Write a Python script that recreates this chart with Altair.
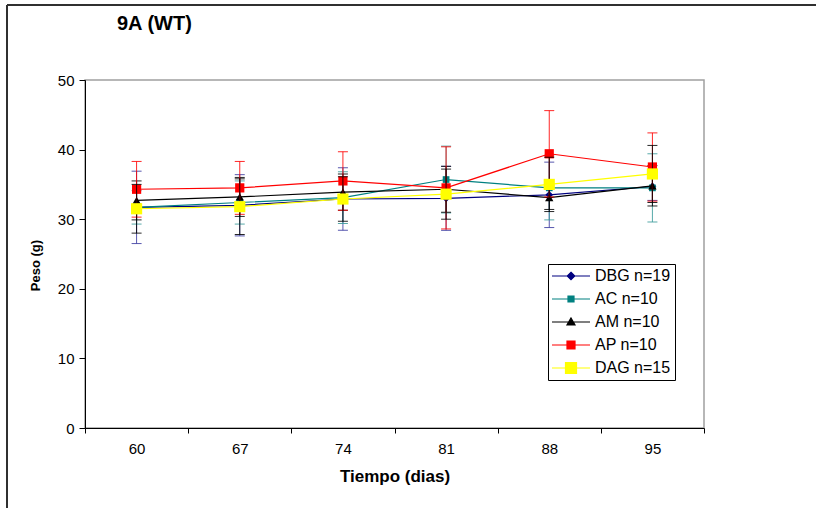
import altair as alt
import pandas as pd

# ---------------- data ----------------
days = [60, 67, 74, 81, 88, 95]
series = ["DBG n=19", "AC n=10", "AM n=10", "AP n=10", "DAG n=15"]

dbg_mean = [31.7, 32.0, 32.9, 33.0, 33.5, 34.7]
dbg_err = [5.2, 4.4, 4.5, 4.6, 4.7, 2.0]
ac_mean = [31.7, 32.4, 33.1, 35.7, 34.5, 34.5]
ac_err = [2.4, 3.1, 3.7, 4.8, 4.6, 4.9]
am_mean = [32.7, 33.2, 33.9, 34.3, 33.1, 34.8]
am_err = [2.8, 2.8, 2.6, 3.3, 1.7, 2.9]
ap_mean = [34.3, 34.5, 35.5, 34.5, 39.4, 37.5]
ap_err = [4.0, 3.8, 4.2, 5.9, 6.2, 4.9]
dag_mean = [31.5, 31.8, 32.9, 33.6, 35.0, 36.5]
dag_err = [3.5, 4.0, 3.2, 3.6, 3.9, 4.1]

y_ticks = [0, 10, 20, 30, 40, 50]

means = [dbg_mean, ac_mean, am_mean, ap_mean, dag_mean]
errs = [dbg_err, ac_err, am_err, ap_err, dag_err]

# ---------------- styles ----------------
FONT = "Liberation Sans"
line_colors = ["#000080", "#008080", "#000000", "#FF0000", "#FFFF00"]
err_colors = ["#3A3AA0", "#3A9A9A", "#000000", "#FF0000", "#000000"]
shapes = ["diamond", "square", "triangle-up", "square", "square"]
sizes = [60, 45, 70, 85, 125]
legend_paths = [
    "M-3.8,0H3.8M0,-0.75L0.75,0L0,0.75L-0.75,0Z",
    "M-3.8,0H3.8M-0.6,-0.6H0.6V0.6H-0.6Z",
    "M-3.8,0H3.8M0,-0.8L0.8,0.6H-0.8Z",
    "M-3.8,0H3.8M-0.8,-0.8H0.8V0.8H-0.8Z",
    "M-3.8,0H3.8M-1.1,-1.1H1.1V1.1H-1.1Z",
]

rows = []
for name, m, e in zip(series, means, errs):
    for d, mv, ev in zip(days, m, e):
        rows.append({"series": name, "day": d, "mean": mv, "err": ev})
df = pd.DataFrame(rows)

base = alt.Chart(df).transform_calculate(
    lo="datum.mean - datum.err", hi="datum.mean + datum.err"
)

xaxis = alt.Axis(
    labelAngle=0, tickBand="extent", tickSize=5, labelPadding=8,
    labelFontSize=15, labelColor="#000", domainColor="#000", tickColor="#000",
    titleFontSize=17, titleFontWeight="bold", titleColor="#000",
    titleX=309.5, titleY=48, titleBaseline="middle", titleAlign="center",
)
yaxis = alt.Axis(
    values=y_ticks, grid=False, tickSize=6, labelPadding=5,
    labelFontSize=15, labelColor="#000", domainColor="#000", tickColor="#000",
    titleFontSize=13, titleFontWeight="bold", titleColor="#000",
    titleX=-50, titleY=185, titleAngle=270, titleBaseline="middle", titleAlign="center",
)
xscale = alt.Scale(type="band", paddingInner=0, paddingOuter=0)
yscale = alt.Scale(domain=[0, 50], nice=False, zero=True)


def X():
    return alt.X("day:O", scale=xscale, bandPosition=0.5, axis=xaxis, title="Tiempo (dias)")


def Y(field):
    return alt.Y(field, scale=yscale, axis=yaxis, title="Peso (g)")


layers = []
for i, name in enumerate(series):
    s = base.transform_filter(alt.datum.series == name)
    layers.append(
        s.mark_rule(color=err_colors[i], strokeWidth=1, opacity=0.85).encode(
            x=X(), y=Y("lo:Q"), y2="hi:Q"
        )
    )
    layers.append(
        s.mark_tick(color=err_colors[i], size=10, thickness=1, opacity=0.85).encode(
            x=X(), y=Y("lo:Q")
        )
    )
    layers.append(
        s.mark_tick(color=err_colors[i], size=10, thickness=1, opacity=0.85).encode(
            x=X(), y=Y("hi:Q")
        )
    )
    layers.append(
        s.mark_line(color=line_colors[i], strokeWidth=1.2).encode(x=X(), y=Y("mean:Q"))
    )
    layers.append(
        s.mark_point(
            shape=shapes[i], size=sizes[i], filled=True, color=line_colors[i],
            opacity=1, strokeWidth=0,
        ).encode(x=X(), y=Y("mean:Q"))
    )

# invisible layer that only provides the legend
legend_layer = base.mark_point(filled=True, opacity=0, size=100).encode(
    x=X(),
    y=Y("mean:Q"),
    fill=alt.Fill("series:N", scale=alt.Scale(domain=series, range=line_colors), legend=alt.Legend(title=None)),
    stroke=alt.Stroke("series:N", scale=alt.Scale(domain=series, range=line_colors), legend=alt.Legend(title=None)),
    shape=alt.Shape("series:N", scale=alt.Scale(domain=series, range=legend_paths), legend=alt.Legend(title=None)),
)
layers.append(legend_layer)

# outer chart frame (decoration)
frame_data = alt.Data(values=[{"k": 1}])
frame_top = alt.Chart(frame_data).mark_rule(color="#303030", strokeWidth=2).encode(
    x=alt.value(-78), x2=alt.value(760), y=alt.value(-75)
)
frame_left = alt.Chart(frame_data).mark_rule(color="#303030", strokeWidth=2).encode(
    x=alt.value(-78), y=alt.value(-75), y2=alt.value(440)
)

chart = alt.layer(frame_top, frame_left, *layers).properties(
    width=619,
    height=348,
    autosize=alt.AutoSizeParams(type="none"),
    padding={"left": 85, "top": 80, "right": 112, "bottom": 80},
    title=alt.TitleParams(
        "9A (WT)", anchor="start", dx=111, offset=0, dy=50, baseline="bottom",
        fontSize=20, fontWeight="bold", font=FONT, color="#000",
    ),
).configure(
    font=FONT,
    background="white",
).configure_view(
    stroke="#A0A0A0", strokeWidth=1.5
).configure_axis(
    labelFont=FONT, titleFont=FONT
).configure_legend(
    orient="none", legendX=463, legendY=184, direction="vertical",
    strokeColor="#000", fillColor="#fff", padding=4,
    labelFont=FONT, labelFontSize=16, labelColor="#000",
    symbolSize=100, symbolStrokeWidth=1.2, symbolOffset=11, labelOffset=16,
    rowPadding=7, symbolOpacity=1,
)

chart.save("out.html", embed_options={"renderer": "svg", "actions": False})
